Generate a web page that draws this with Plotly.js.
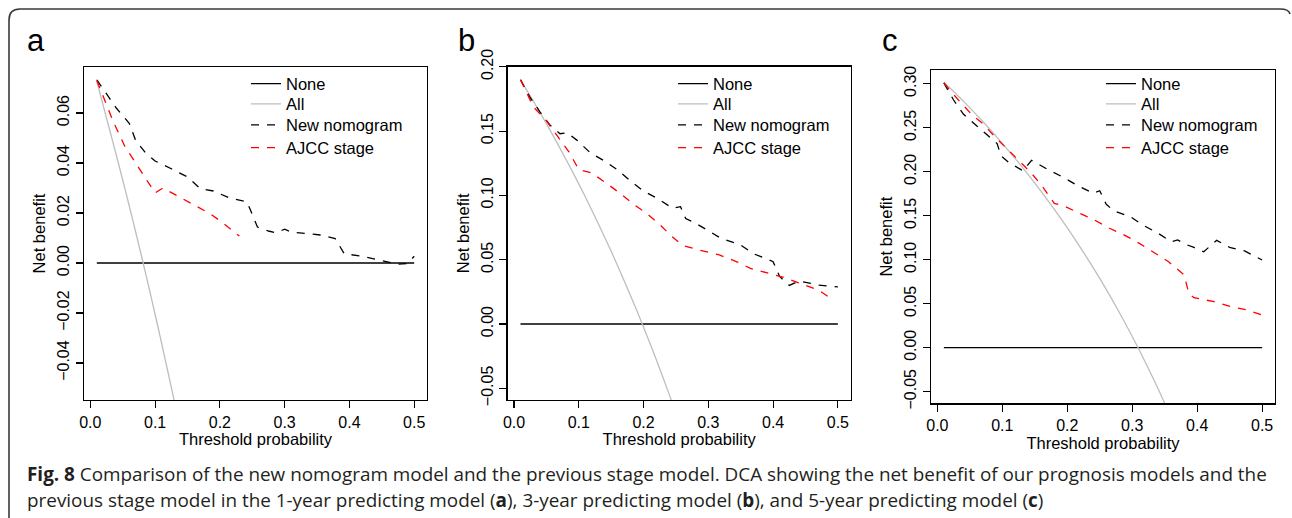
<!DOCTYPE html>
<html>
<head>
<meta charset="utf-8">
<script src="https://cdn.plot.ly/plotly-3.0.1.min.js"></script>
<style>
  html, body { margin: 0; padding: 0; background: #ffffff; }
  #chart { width: 1292px; height: 518px; }
</style>
</head>
<body>
<div id="chart"></div>
<script>
// ---------------- DATA ----------------
// Panel a (1-year)
const xA_all = [0.01, 0.02, 0.03, 0.04, 0.05, 0.06, 0.07, 0.08, 0.09, 0.10, 0.11, 0.12, 0.13, 0.14];
const yA_all = [0.0728, 0.0628, 0.0531, 0.0432, 0.0332, 0.0229, 0.0124, 0.0016, -0.0093, -0.0206, -0.0320, -0.0438, -0.0557, -0.0680];
const xA_nom = [0.01, 0.025, 0.04, 0.06, 0.07, 0.085, 0.10, 0.125, 0.15, 0.17, 0.19, 0.215, 0.242, 0.258, 0.275, 0.287, 0.30, 0.31, 0.33, 0.355, 0.378, 0.392, 0.42, 0.45, 0.475, 0.49, 0.50];
const yA_nom = [0.0733, 0.0677, 0.0620, 0.0559, 0.0490, 0.0441, 0.0408, 0.0377, 0.0344, 0.0297, 0.0288, 0.0260, 0.0244, 0.0144, 0.0128, 0.0121, 0.0135, 0.0124, 0.0120, 0.0112, 0.0098, 0.0037, 0.0027, 0.0008, -0.0005, -0.0002, 0.0027];
const xA_ajcc = [0.01, 0.023, 0.035, 0.053, 0.07, 0.085, 0.10, 0.112, 0.138, 0.16, 0.183, 0.203, 0.23];
const yA_ajcc = [0.0730, 0.0644, 0.0568, 0.0468, 0.0400, 0.0342, 0.0280, 0.0300, 0.0264, 0.0232, 0.0200, 0.0164, 0.0108];

// Panel b (3-year)
const xB_all = [0.01, 0.03, 0.05, 0.07, 0.09, 0.11, 0.13, 0.15, 0.17, 0.19, 0.21, 0.23, 0.25, 0.27];
const yB_all = [0.1899, 0.1732, 0.1558, 0.1376, 0.1187, 0.0989, 0.0782, 0.0565, 0.0337, 0.0099, -0.0152, -0.0416, -0.0693, -0.0987];
const xB_nom = [0.01, 0.025, 0.04, 0.055, 0.071, 0.082, 0.097, 0.118, 0.14, 0.16, 0.18, 0.20, 0.22, 0.235, 0.245, 0.257, 0.265, 0.28, 0.30, 0.32, 0.35, 0.37, 0.40, 0.41, 0.425, 0.44, 0.47, 0.50];
const yB_nom = [0.1900, 0.1760, 0.1650, 0.1550, 0.1480, 0.1488, 0.1430, 0.1330, 0.1267, 0.1198, 0.1110, 0.1034, 0.0980, 0.0935, 0.0900, 0.0912, 0.0820, 0.0785, 0.0723, 0.0665, 0.0614, 0.0546, 0.0485, 0.0370, 0.0300, 0.0335, 0.0303, 0.0288];
const xB_ajcc = [0.01, 0.03, 0.05, 0.07, 0.085, 0.10, 0.12, 0.14, 0.163, 0.184, 0.204, 0.224, 0.243, 0.26, 0.286, 0.317, 0.345, 0.365, 0.39, 0.415, 0.44, 0.47, 0.49];
const yB_ajcc = [0.1900, 0.1687, 0.1580, 0.1446, 0.1337, 0.1200, 0.1174, 0.1104, 0.1019, 0.0933, 0.0863, 0.0778, 0.0684, 0.0612, 0.0575, 0.0537, 0.0482, 0.0432, 0.0397, 0.0365, 0.0319, 0.0264, 0.0197];

// Panel c (5-year)
const xC_all = [0.01, 0.04, 0.07, 0.10, 0.13, 0.16, 0.19, 0.22, 0.25, 0.28, 0.31, 0.34, 0.37];
const yC_all = [0.3020, 0.2802, 0.2570, 0.2322, 0.2058, 0.1774, 0.1469, 0.1141, 0.0787, 0.0403, -0.0015, -0.0470, -0.0968];
const xC_nom = [0.01, 0.025, 0.04, 0.06, 0.08, 0.092, 0.098, 0.11, 0.132, 0.145, 0.17, 0.193, 0.217, 0.24, 0.25, 0.26, 0.272, 0.297, 0.317, 0.34, 0.36, 0.37, 0.385, 0.395, 0.41, 0.43, 0.45, 0.473, 0.50];
const yC_nom = [0.3010, 0.2815, 0.2655, 0.2530, 0.2400, 0.2320, 0.2180, 0.2105, 0.2010, 0.2130, 0.2025, 0.1940, 0.1838, 0.1755, 0.1784, 0.1630, 0.1553, 0.1490, 0.1390, 0.1300, 0.1205, 0.1224, 0.1167, 0.1140, 0.1090, 0.1220, 0.1140, 0.1100, 0.0997];
const xC_ajcc = [0.01, 0.031, 0.053, 0.071, 0.089, 0.108, 0.126, 0.143, 0.159, 0.18, 0.195, 0.218, 0.242, 0.265, 0.288, 0.311, 0.334, 0.356, 0.38, 0.387, 0.395, 0.426, 0.452, 0.477, 0.50];
const yC_ajcc = [0.3010, 0.2826, 0.2650, 0.2540, 0.2394, 0.2258, 0.2127, 0.1997, 0.1860, 0.1640, 0.1610, 0.1530, 0.1450, 0.1357, 0.1280, 0.1186, 0.1076, 0.0977, 0.0826, 0.0618, 0.0568, 0.0523, 0.0466, 0.0428, 0.0372];

// None reference line (net benefit 0)
const xNone = [0.01, 0.50];
const yNone = [0, 0];

// Tick labels
const xTickVals = [0, 0.1, 0.2, 0.3, 0.4, 0.5];
const xTickText = ['0.0', '0.1', '0.2', '0.3', '0.4', '0.5'];
const yTickValsA = [-0.04, -0.02, 0, 0.02, 0.04, 0.06];
const yTickTextA = ['\u22120.04', '\u22120.02', '0.00', '0.02', '0.04', '0.06'];
const yTickValsB = [-0.05, 0, 0.05, 0.10, 0.15, 0.20];
const yTickTextB = ['\u22120.05', '0.00', '0.05', '0.10', '0.15', '0.20'];
const yTickValsC = [-0.05, 0, 0.05, 0.10, 0.15, 0.20, 0.25, 0.30];
const yTickTextC = ['\u22120.05', '0.00', '0.05', '0.10', '0.15', '0.20', '0.25', '0.30'];

const seriesNames = ['None', 'All', 'New nomogram', 'AJCC stage'];
const panelLetters = ['a', 'b', 'c'];
const xTitle = 'Threshold probability';
const yTitle = 'Net benefit';
const captionLine1 = '<b>Fig. 8</b> Comparison of the new nomogram model and the previous stage model. DCA showing the net benefit of our prognosis models and the';
const captionLine2 = 'previous stage model in the 1-year predicting model (<b>a</b>), 3-year predicting model (<b>b</b>), and 5-year predicting model (<b>c</b>)';

// ---------------- LAYOUT HELPERS ----------------
const W = 1292, H = 518;
const px = v => v / W;
const py = v => 1 - v / H;
const FONT = 'Liberation Sans, Arial, Helvetica, sans-serif';
const CAPFONT = 'Open Sans, Noto Sans, sans-serif';

const panels = [
  {xa: 'x',  ya: 'y',  xk: 'xaxis',  yk: 'yaxis',  box: [84, 67, 427, 400], legText: 286,
   yr: [-0.0548, 0.0784], ytv: yTickValsA, ytt: yTickTextA,
   all: [xA_all, yA_all], nom: [xA_nom, yA_nom], ajcc: [xA_ajcc, yA_ajcc]},
  {xa: 'x2', ya: 'y2', xk: 'xaxis2', yk: 'yaxis2', box: [507.7, 66.7, 850.7, 400], legText: 713,
   yr: [-0.0591, 0.2001], ytv: yTickValsB, ytt: yTickTextB,
   all: [xB_all, yB_all], nom: [xB_nom, yB_nom], ajcc: [xB_ajcc, yB_ajcc]},
  {xa: 'x3', ya: 'y3', xk: 'xaxis3', yk: 'yaxis3', box: [931, 70, 1275, 403.3], legText: 1141,
   yr: [-0.0632, 0.3156], ytv: yTickValsC, ytt: yTickTextC,
   all: [xC_all, yC_all], nom: [xC_nom, yC_nom], ajcc: [xC_ajcc, yC_ajcc]}
];
const legendRowCenters = [84.3, 104.7, 125.7, 148.3];

const traces = [];
const layout = {
  width: W, height: H,
  margin: {l: 0, r: 0, t: 0, b: 0, pad: 0},
  paper_bgcolor: '#ffffff',
  plot_bgcolor: '#ffffff',
  font: {family: FONT, color: '#000000'},
  showlegend: true,
  annotations: [],
  shapes: []
};

let legendCount = 0;
panels.forEach((p, i) => {
  const styles = [
    {color: '#000000', width: 1.3},
    {color: '#bebebe', width: 1.3, shape: 'spline', smoothing: 0.6},
    {color: '#000000', width: 1.3, dash: '8px,8px'},
    {color: '#ff0000', width: 1.3, dash: '8px,8px'}
  ];
  const data = [[xNone, yNone], p.all, p.nom, p.ajcc];
  data.forEach((d, k) => {
    legendCount += 1;
    const lgKey = legendCount === 1 ? 'legend' : 'legend' + legendCount;
    traces.push({x: d[0], y: d[1], name: seriesNames[k], xaxis: p.xa, yaxis: p.ya,
      mode: 'lines', legend: lgKey, showlegend: true, hoverinfo: 'skip', line: styles[k]});
    layout[lgKey] = {
      visible: true,
      x: px(p.legText - 40), y: py(legendRowCenters[k] - 18), xanchor: 'left', yanchor: 'top',
      bgcolor: 'rgba(0,0,0,0)', borderwidth: 0,
      font: {size: 16.5, family: FONT, color: '#000000'},
      itemclick: false, itemdoubleclick: false
    };
  });

  const [l, t, r, b] = p.box;
  layout[p.xk] = {
    domain: [px(l), px(r)], anchor: p.ya, range: [-0.0098, 0.5198],
    showline: true, mirror: true, linecolor: '#000000', linewidth: 1.3,
    ticks: 'outside', ticklen: 7, tickwidth: 1.2, tickcolor: '#000000',
    tickmode: 'array', tickvals: xTickVals, ticktext: xTickText,
    tickfont: {size: 16, family: FONT, color: '#000000'},
    showgrid: false, zeroline: false, fixedrange: true,
    title: {text: xTitle, font: {size: 16.5, family: FONT, color: '#000000'}, standoff: 2}
  };
  layout[p.yk] = {
    domain: [py(b), py(t)], anchor: p.xa, range: p.yr,
    showline: true, mirror: true, linecolor: '#000000', linewidth: 1.3,
    ticks: 'outside', ticklen: 7, tickwidth: 1.2, tickcolor: '#000000',
    tickmode: 'array', tickvals: p.ytv, ticktext: p.ytt, tickangle: -90,
    tickfont: {size: 16, family: FONT, color: '#000000'},
    showgrid: false, zeroline: false, fixedrange: true,
    title: {text: yTitle, font: {size: 16.5, family: FONT, color: '#000000'}, standoff: 5}
  };
  layout.annotations.push({
    xref: 'paper', yref: 'paper', x: px([36, 466, 890][i]), y: py(41),
    xanchor: 'center', yanchor: 'middle', showarrow: false,
    text: panelLetters[i], font: {size: 31, family: FONT, color: '#000000'}
  });
});

layout.annotations.push({
  xref: 'paper', yref: 'paper', x: px(25), y: py(474), xanchor: 'left', yanchor: 'middle',
  showarrow: false, text: captionLine1, align: 'left',
  font: {size: 18.9, family: CAPFONT, color: '#231f20'}
});
layout.annotations.push({
  xref: 'paper', yref: 'paper', x: px(25), y: py(500), xanchor: 'left', yanchor: 'middle',
  showarrow: false, text: captionLine2, align: 'left',
  font: {size: 18.9, family: CAPFONT, color: '#231f20'}
});

// Outer frame (rounded top corners, open at the bottom)
const fx = v => px(v).toFixed(5);
const fy = v => py(v).toFixed(5);
layout.shapes.push({
  type: 'path', xref: 'paper', yref: 'paper',
  path: 'M ' + fx(9) + ',' + fy(518) + ' L ' + fx(9) + ',' + fy(20) +
        ' Q ' + fx(9) + ',' + fy(9) + ' ' + fx(20) + ',' + fy(9) +
        ' L ' + fx(1280) + ',' + fy(9) +
        ' Q ' + fx(1289) + ',' + fy(9) + ' ' + fx(1290) + ',' + fy(14),
  line: {color: '#3a3a3a', width: 1.6}
});

Plotly.newPlot('chart', traces, layout, {displayModeBar: false, staticPlot: true});
</script>
</body>
</html>
